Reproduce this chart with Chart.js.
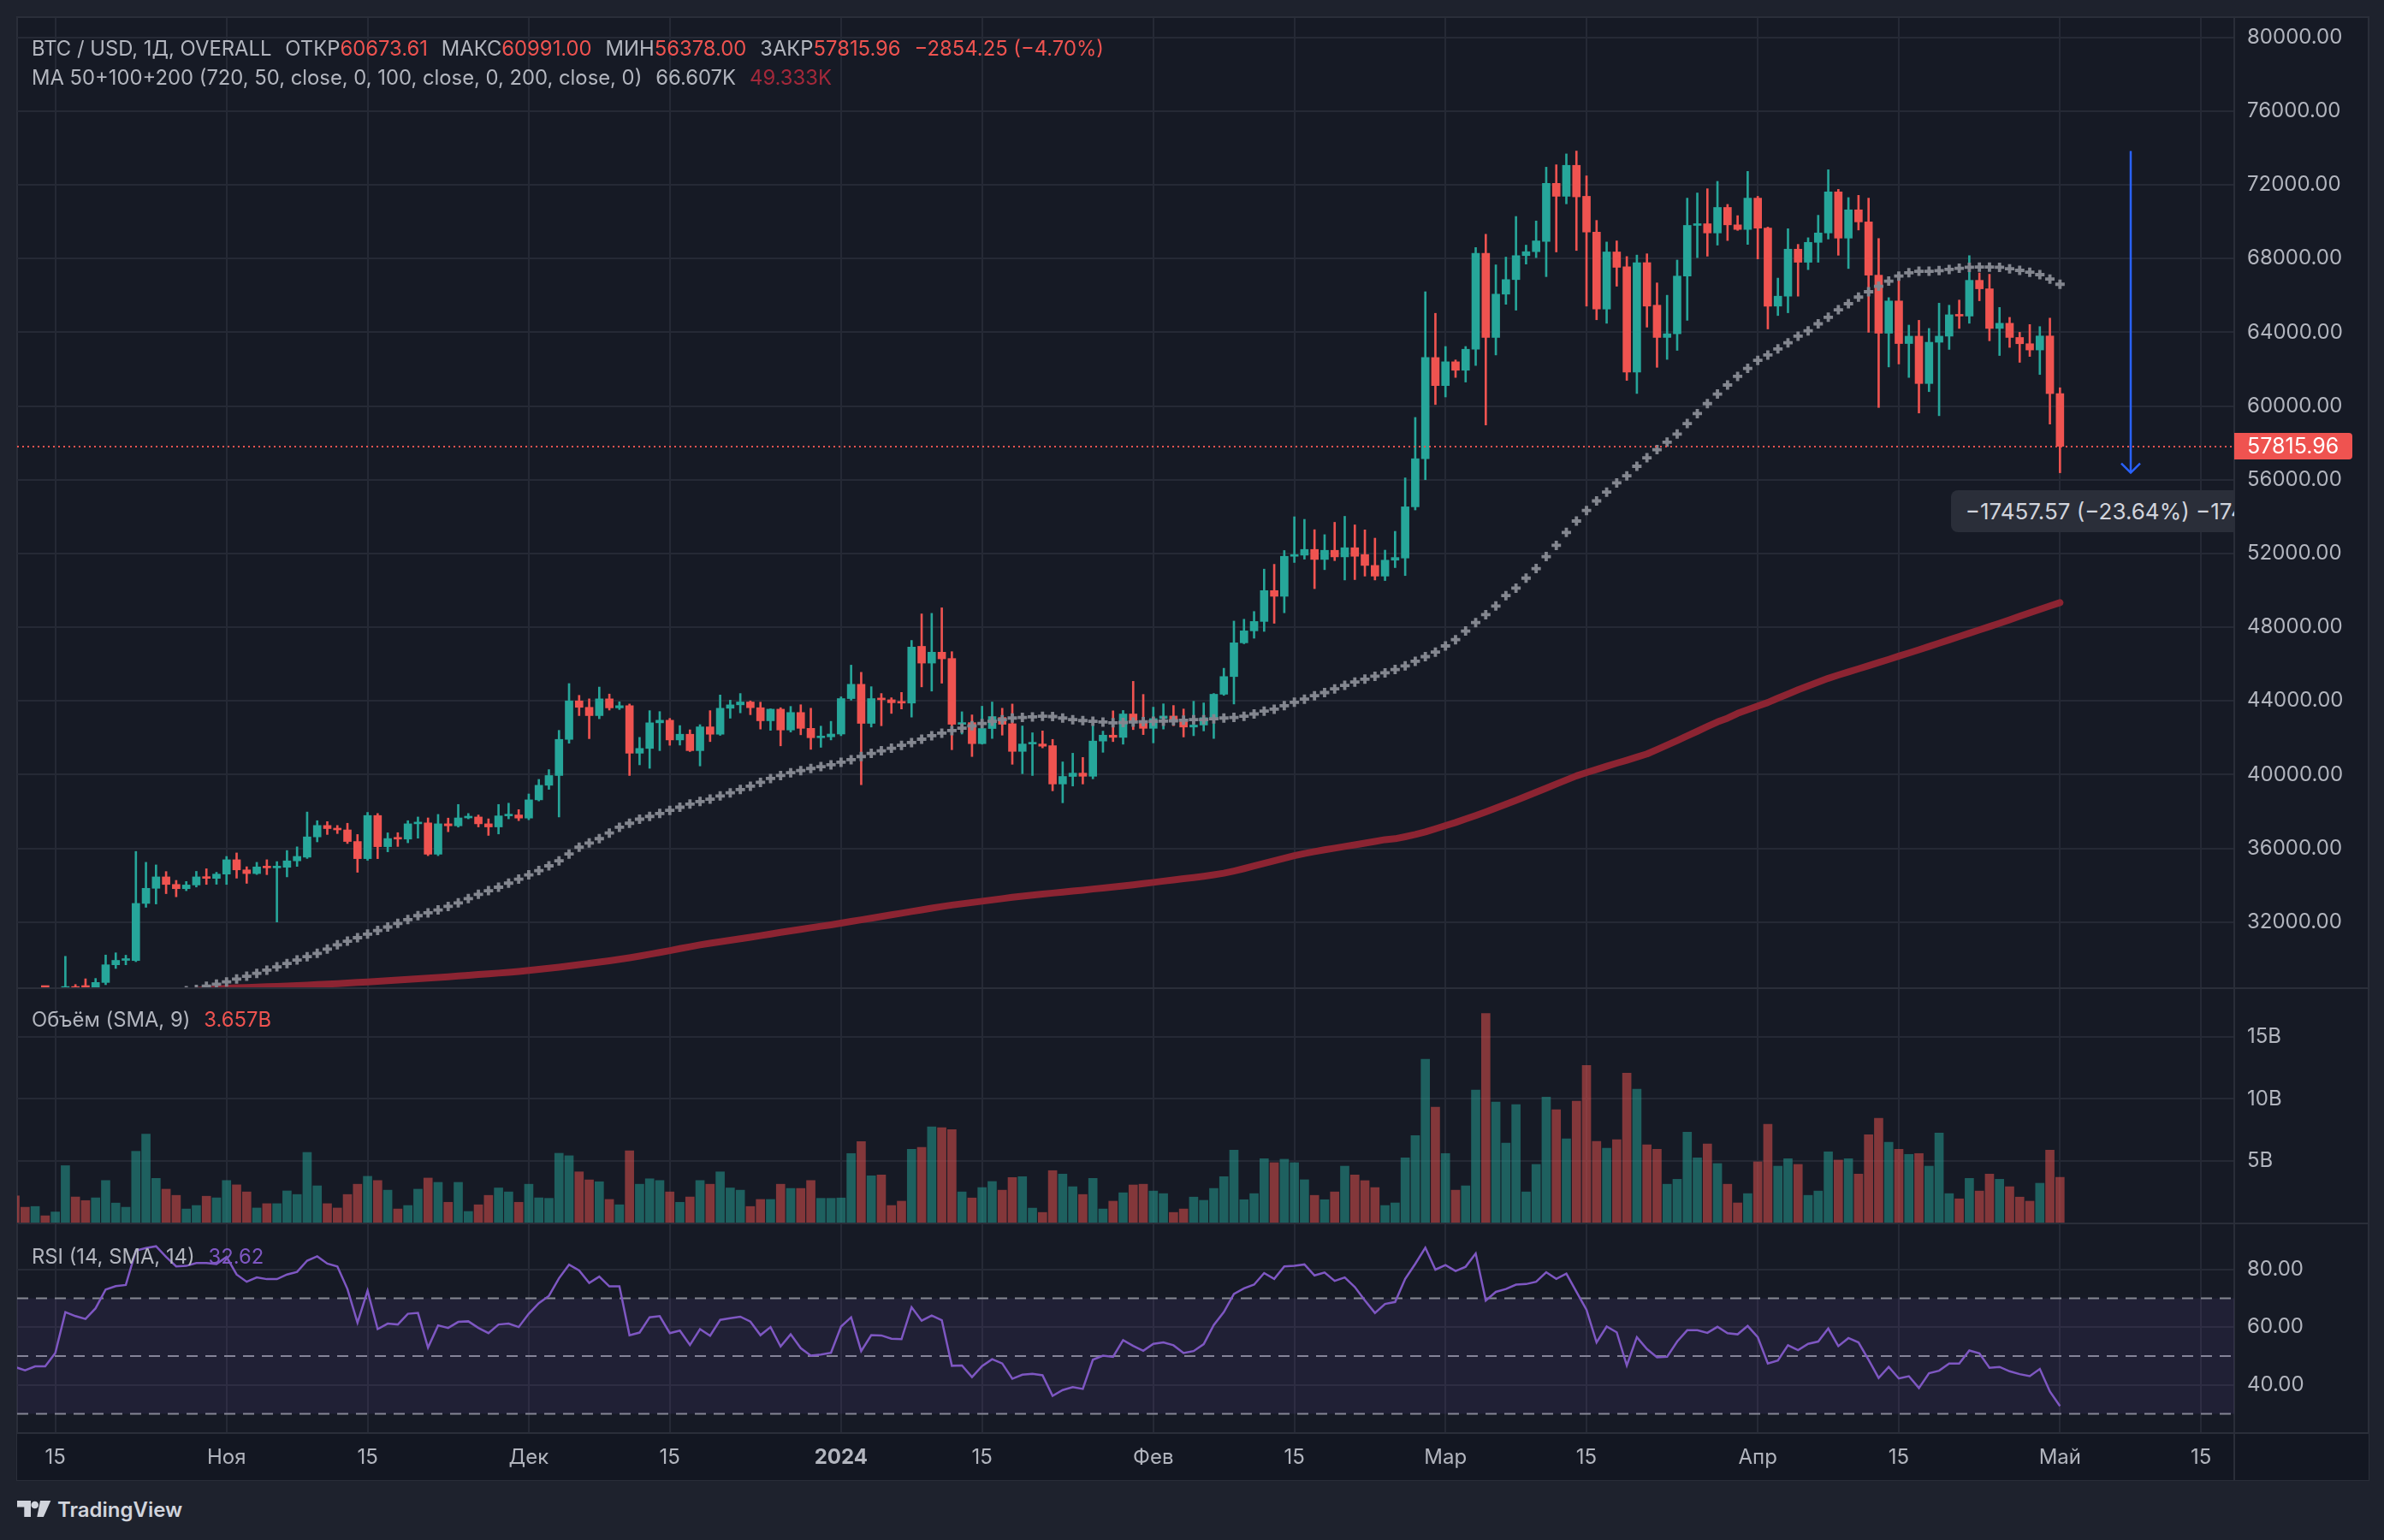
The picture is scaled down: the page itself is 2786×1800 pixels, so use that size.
<!DOCTYPE html>
<html lang="ru">
<head>
<meta charset="utf-8">
<title>BTC / USD, 1Д</title>
<script src="https://cdn.jsdelivr.net/npm/chart.js@4.4.1/dist/chart.umd.min.js"></script>
<style>
  html, body { margin:0; padding:0; width:2786px; height:1800px; overflow:hidden; background:#1e222d;
    font-family: Inter, "Noto Sans", "DejaVu Sans", sans-serif; }
  #frame { position:absolute; left:19px; top:19px; width:2750px; height:1712px; box-sizing:border-box;
    border:2px solid #2a2e39; background:#161a25; }
  canvas { position:absolute; left:20px; }
  .sep { position:absolute; left:20px; width:2748px; height:2px; background:#2a2e39; }
  .ttl { position:absolute; left:37px; font-size:23.8px; line-height:26px; color:#b2b5be; white-space:nowrap; }
  .ttl .g { margin-left:16px; }
  .red { color:#ef5350; }
  .ma2 { color:#a3283a; }
  .pur { color:#7e57c2; }
  #priceTag { position:absolute; width:138px; height:31px; line-height:31px; background:#ef5350; color:#ffffff;
    font-size:25px; padding-left:15px; box-sizing:border-box; border-radius:0 4px 4px 0; }
  #clipBox { position:absolute; left:20px; top:21px; width:2591px; height:1133px; overflow:hidden; pointer-events:none; }
  #measureBox { position:absolute; width:420px; height:49px; line-height:49px; background:#2a2e39; color:#d1d4dc;
    font-size:26px; padding-left:17px; box-sizing:border-box; border-radius:8px; white-space:nowrap; }
  #logo { position:absolute; left:20px; top:1750px; height:30px; color:#d1d4dc; }
  #logo svg { position:absolute; left:0; top:4px; }
  #logo span { position:absolute; left:47px; top:0; font-size:24px; line-height:30px; font-weight:600; white-space:nowrap; }
</style>
</head>
<body>
<div id="frame"></div>
<canvas id="cMain" width="2748" height="1133" style="top:21px;width:2748px;height:1133px"></canvas>
<div class="sep" style="top:1154px"></div>
<canvas id="cVol" width="2748" height="273" style="top:1156px;width:2748px;height:273px"></canvas>
<div class="sep" style="top:1429px"></div>
<canvas id="cRsi" width="2748" height="299" style="top:1431px;width:2748px;height:299px"></canvas>

<div class="ttl" style="top:44px">BTC / USD, 1Д, OVERALL<span class="g">ОТКР<span class="red">60673.61</span></span><span class="g">МАКС<span class="red">60991.00</span></span><span class="g">МИН<span class="red">56378.00</span></span><span class="g">ЗАКР<span class="red">57815.96</span></span><span class="g red">−2854.25 (−4.70%)</span></div>
<div class="ttl" style="top:78px">MA 50+100+200 (720, 50, close, 0, 100, close, 0, 200, close, 0)<span class="g">66.607K</span><span class="g ma2">49.333K</span></div>
<div class="ttl" style="top:1179px">Объём (SMA, 9)<span class="g red">3.657B</span></div>
<div class="ttl" style="top:1456px">RSI (14, SMA, 14)<span class="g pur">32.62</span></div>

<div id="clipBox"><div id="measureBox">−17457.57 (−23.64%) −1745757</div></div>
<div id="priceTag"></div>

<div id="logo">
  <svg width="40" height="20" viewBox="0 0 40 20"><path d="M0 0H16V19H8.3V7.4H0Z" fill="#d1d4dc"/><circle cx="20.7" cy="5" r="4.3" fill="#d1d4dc"/><path d="M27 0H39.3L30.9 19H23.3Z" fill="#d1d4dc"/></svg>
  <span>TradingView</span>
</div>

<script>
// ---------------- DATA (daily candles, 11 Oct 2023 → 1 May 2024) ----------------
const firstDay = '2023-10-11';

const opens = [
  27390, 26870, 26750, 26860, 26850, 27150, 28500, 28400, 28320, 28720,
  29680, 29920, 29910, 33010, 33830, 34450, 34040, 33810, 34010, 34450,
  34370, 34600, 35380, 34830, 34630, 34990, 34940, 34970, 35320, 35520,
  36620, 37240, 37070, 37000, 36370, 35440, 37780, 36090, 36530, 36500,
  37330, 37380, 35680, 37330, 37220, 37650, 37700, 37330, 37160, 37760,
  37810, 37640, 38630, 39420, 39950, 41910, 44000, 43650, 43200, 44110,
  43620, 43740, 41160, 41420, 42810, 42950, 41880, 42190, 41300, 42590,
  42190, 43600, 43785, 43940, 43630, 42920, 43550, 42420, 43370, 42510,
  42000, 42050, 42200, 44125, 44900, 42780, 44125, 44060, 43940, 43880,
  46960, 46050, 46640, 46300, 42730, 42820, 41680, 42500, 43100, 42760,
  41260, 41660, 41660, 41570, 39490, 39900, 40080, 39910, 41820, 42140,
  42020, 43290, 42890, 42510, 43040, 43180, 42990, 42580, 42690, 43090,
  44360, 45320, 47150, 47800, 48310, 49985, 49675, 51845, 51907, 52217,
  51675, 52170, 51814, 52310, 51940, 51350, 50770, 51635, 51750, 54530,
  57140, 62630, 61110, 62400, 61940, 63080, 68280, 63720, 66070, 66860,
  68160, 68375, 68930, 72080, 71380, 73060, 71380, 69440, 65260, 68360,
  67560, 61840, 67780, 65470, 63720, 63920, 67050, 69800, 69890, 69390,
  70775, 69830, 69580, 71280, 69650, 65420, 65960, 68510, 67800, 68880,
  69390, 71620, 69110, 70645, 69990, 67100, 63950, 65700, 63390, 63790,
  61220, 63460, 63790, 64950, 64880, 66820, 66360, 64210, 64490, 63720,
  63380, 63040, 63800, 60673.61
];
const highs = [
  27480, 26940, 27100, 26980, 27290, 30140, 28610, 28920, 28940, 30210,
  30330, 30200, 35830, 35240, 35100, 34740, 34260, 34200, 34750, 34890,
  34700, 35560, 35750, 35000, 35240, 35380, 35280, 35880, 36080, 37970,
  37500, 37450, 37240, 37360, 36750, 37950, 37890, 36840, 36850, 37500,
  37700, 37650, 37840, 37640, 38380, 37890, 37810, 37600, 38380, 38450,
  38100, 38950, 39740, 40270, 42400, 44940, 44300, 44110, 44750, 44370,
  43950, 43830, 42020, 43470, 43420, 43050, 42660, 42430, 42710, 43470,
  44320, 44040, 44400, 44000, 43930, 43570, 43630, 43700, 43790, 43600,
  42630, 42890, 44220, 45940, 45550, 44770, 44400, 44170, 44460, 47280,
  48720, 48750, 49050, 46670, 43410, 43240, 43710, 43940, 43600, 43830,
  42640, 42270, 42370, 41910, 40690, 41160, 40930, 42730, 42360, 43460,
  43480, 45060, 44350, 43660, 43840, 43750, 43560, 43980, 43890, 44400,
  45770, 48330, 48430, 48850, 51150, 51410, 52160, 53990, 53850, 53290,
  53020, 53690, 54015, 53550, 53280, 52830, 52180, 53200, 56100, 59380,
  66200, 65030, 63230, 62500, 63230, 68600, 69320, 67660, 68080, 70285,
  68730, 70040, 72960, 73090, 73680, 73835.53, 72490, 70070, 68900, 68960,
  68110, 68190, 68260, 66680, 66010, 67920, 71280, 71560, 71790, 72190,
  70940, 70330, 72730, 71380, 69710, 66940, 69620, 68770, 69130, 70350,
  72820, 71755, 71310, 71430, 71280, 69090, 65880, 66990, 64390, 64650,
  64210, 65580, 65470, 65750, 68160, 67220, 67150, 65350, 64810, 64000,
  64420, 64310, 64770, 60991
];
const lows = [
  26550, 26560, 26690, 26800, 26800, 27130, 28090, 28130, 28180, 28600,
  29480, 29680, 29850, 32800, 32980, 33540, 33370, 33700, 33900, 34040,
  34050, 34040, 34380, 34100, 34580, 34570, 32000, 34450, 35020, 35450,
  36350, 36750, 36800, 36260, 34700, 35350, 35440, 35810, 36100, 36300,
  36550, 35600, 35600, 36900, 37150, 37600, 37160, 36700, 36780, 37600,
  37500, 37550, 38570, 39200, 37700, 41700, 43200, 41950, 43030, 43500,
  43530, 39950, 40530, 40340, 41300, 41590, 41600, 41250, 40470, 41790,
  42130, 43060, 43350, 43250, 42470, 42400, 41560, 42310, 42160, 41370,
  41480, 41880, 42110, 44040, 39450, 42580, 42650, 43320, 43560, 43120,
  44760, 44530, 44960, 41350, 42200, 40980, 41650, 41960, 42140, 40560,
  40050, 39950, 41450, 39120, 38470, 39380, 39490, 39770, 41210, 41790,
  41650, 42440, 42170, 41720, 42470, 42650, 42040, 42110, 42370, 41960,
  44300, 43830, 47100, 47400, 47770, 48210, 48780, 51510, 51690, 50090,
  51120, 51610, 50560, 50580, 50770, 50560, 50530, 51230, 50800, 54360,
  56000, 60080, 60490, 61550, 61300, 62200, 58970, 62770, 65520, 65200,
  67700, 68050, 67020, 68360, 70970, 68440, 65420, 64680, 64490, 66500,
  61390, 60680, 64280, 62100, 62530, 63020, 64650, 68050, 68130, 68730,
  68980, 69530, 68770, 67980, 64180, 64910, 65060, 65960, 67400, 67800,
  69060, 68180, 67460, 69550, 64000, 59920, 62120, 62280, 61550, 59620,
  60780, 59475, 63070, 64210, 64490, 65710, 63540, 62740, 63180, 62370,
  62690, 61710, 59020, 56378
];
const closes = [
  26870, 26750, 26860, 26850, 27150, 28500, 28400, 28320, 28720, 29680,
  29920, 29990, 33010, 33830, 34450, 34040, 33810, 34010, 34450, 34370,
  34600, 35380, 34830, 34630, 34990, 34940, 34970, 35320, 35560, 36620,
  37240, 37070, 37000, 36370, 35440, 37780, 36090, 36530, 36500, 37330,
  37420, 35680, 37330, 37220, 37650, 37700, 37330, 37160, 37760, 37810,
  37640, 38630, 39420, 39950, 41910, 44000, 43650, 43200, 44110, 43620,
  43740, 41160, 41420, 42810, 42950, 41880, 42190, 41300, 42590, 42190,
  43600, 43785, 43940, 43630, 42920, 43550, 42420, 43370, 42510, 42000,
  42050, 42200, 44125, 44900, 42780, 44125, 44060, 43900, 43880, 46920,
  46050, 46640, 46280, 42730, 42810, 41680, 42500, 43150, 42730, 41260,
  41660, 41690, 41540, 39490, 39900, 40080, 39910, 41820, 42140, 42020,
  43290, 42890, 42510, 43040, 43180, 42990, 42580, 42690, 43090, 44360,
  45320, 47150, 47800, 48310, 49985, 49675, 51845, 51940, 52217, 51675,
  52170, 51814, 52310, 51845, 51350, 50770, 51635, 51780, 54530, 57140,
  62630, 61110, 62400, 61940, 63080, 68280, 63720, 66070, 66860, 68160,
  68375, 68960, 72080, 71380, 73060, 71350, 69440, 65260, 68360, 67525,
  61840, 67780, 65420, 63720, 63920, 67050, 69800, 69890, 69390, 70775,
  69830, 69580, 71280, 69650, 65420, 65960, 68510, 67800, 68880, 69390,
  71620, 69110, 70645, 69990, 67100, 63950, 65700, 63390, 63790, 61220,
  63460, 63790, 64950, 64880, 66820, 66360, 64210, 64490, 63720, 63380,
  63040, 63800, 60673.61, 57815.96
];
// volume, billions
const volumes = [
  2.16, 1.24, 1.3, 0.55, 0.86, 4.6, 2.07, 1.78, 2.0, 3.4,
  1.58, 1.24, 5.76, 7.14, 3.57, 2.7, 2.2, 1.1, 1.38, 2.13,
  2.0, 3.4, 3.05, 2.48, 1.18, 1.53, 1.53, 2.56, 2.27, 5.67,
  2.97, 1.53, 1.18, 2.27, 3.1, 3.74, 3.4, 2.62, 1.1, 1.38,
  2.7, 3.6, 3.25, 1.64, 3.25, 0.9, 1.44, 2.2, 2.8, 2.48,
  1.64, 3.1, 2.0, 1.96, 5.6, 5.4, 4.1, 3.45, 3.3, 1.87,
  1.44, 5.8, 3.1, 3.54, 3.4, 2.48, 1.64, 2.07, 3.4, 3.1,
  4.1, 2.8, 2.62, 1.3, 1.87, 1.87, 3.1, 2.76, 2.76, 3.4,
  1.96, 1.96, 1.99, 5.58, 6.54, 3.78, 3.85, 1.38, 1.73, 5.93,
  6.07, 7.73, 7.66, 7.52, 2.48, 1.99, 2.83, 3.32, 2.62, 3.64,
  3.71, 1.17, 0.82, 4.2, 3.92, 2.9, 2.27, 3.57, 1.1, 1.73,
  2.41, 3.04, 3.1, 2.55, 2.34, 0.82, 1.1, 2.06, 1.8, 2.76,
  3.71, 5.86, 1.85, 2.34, 5.16, 4.84, 5.12, 4.84, 3.46, 2.2,
  1.85, 2.48, 4.56, 3.85, 3.39, 2.83, 1.38, 1.59, 5.23, 7.03,
  13.2, 9.32, 5.58, 2.62, 2.97, 10.7, 16.9, 9.74, 6.42, 9.53,
  2.48, 4.7, 10.14, 9.11, 6.77, 9.81, 12.7, 6.56, 6.0, 6.7,
  12.08, 10.77, 6.28, 5.93, 3.1, 3.5, 7.31, 5.23, 6.35, 4.77,
  3.1, 1.59, 2.34, 4.91, 7.94, 4.56, 5.16, 4.7, 2.2, 2.55,
  5.72, 5.05, 5.16, 3.92, 7.1, 8.43, 6.49, 5.93, 5.51, 5.58,
  4.56, 7.24, 2.34, 1.92, 3.57, 2.55, 3.92, 3.5, 2.9, 2.06,
  1.73, 3.18, 5.86, 3.657
];
const rsi = [
  46.2, 45.0, 46.4, 46.4, 51.0, 65.2, 63.8, 62.8, 66.5, 73.0,
  74.2, 74.6, 86.5, 87.4, 88.0, 84.3, 81.0, 81.2, 82.2, 82.2,
  81.8, 84.3, 78.2, 75.7, 77.2, 76.6, 76.6, 78.2, 79.1, 83.0,
  84.5, 82.0, 81.0, 73.2, 61.5, 72.6, 59.3, 61.2, 60.9, 64.6,
  64.9, 52.9, 60.6, 59.7, 61.8, 62.0, 59.7, 57.9, 60.9, 61.2,
  60.0, 64.6, 68.3, 70.8, 76.9, 81.6, 79.6, 75.3, 77.5, 74.1,
  74.1, 57.2, 58.1, 63.4, 63.8, 57.9, 58.8, 53.8, 59.3, 57.0,
  62.5, 63.1, 63.6, 61.9, 57.2, 60.0, 53.3, 57.5, 52.7, 50.1,
  50.5, 51.1, 60.2, 63.4, 51.7, 57.2, 57.1, 56.0, 55.8, 66.9,
  62.2, 64.0, 62.4, 46.6, 46.7, 42.7, 46.5, 48.9, 47.4, 42.1,
  43.5, 43.8, 43.3, 36.2, 38.2, 39.2, 38.6, 48.7, 50.1, 49.7,
  55.5, 53.5, 51.8, 54.2, 54.7, 53.7, 51.0, 51.7, 54.1, 60.7,
  65.2, 71.5, 73.4, 74.7, 78.7, 76.7, 81.0, 81.2, 81.7, 77.9,
  78.9, 76.0, 77.2, 73.9, 69.2, 64.9, 68.0, 68.7, 76.7, 81.9,
  87.5, 79.9, 81.5, 79.4, 80.9, 85.5, 69.2, 72.2, 73.2, 74.7,
  74.9, 75.7, 79.0, 76.7, 78.5, 72.2, 66.0, 54.7, 60.2, 58.2,
  46.7, 56.5, 52.4, 49.5, 49.7, 55.0, 58.9, 58.9, 58.0, 60.1,
  57.9, 57.5, 60.4, 56.5, 47.4, 48.4, 53.7, 52.0, 54.2, 55.0,
  59.5, 53.4, 56.2, 54.7, 48.7, 42.4, 46.2, 42.2, 43.0, 38.9,
  44.0, 44.9, 47.4, 47.4, 51.9, 50.9, 45.9, 46.2, 44.7, 43.7,
  43.0, 45.5, 37.7, 32.62
];
// MA 50 (grey crosses)
const ma50 = [
  null, null, null, null, null, null, null, null, null, null,
  null, null, null, null, 28080, 28140, 28200, 28270, 28340, 28517,
  28630, 28750, 28905, 29060, 29215, 29390, 29570, 29750, 29940, 30120,
  30300, 30530, 30765, 30960, 31150, 31345, 31540, 31730, 31925, 32135,
  32345, 32500, 32655, 32850, 33040, 33270, 33505, 33700, 33890, 34110,
  34325, 34560, 34790, 35050, 35320, 35690, 36060, 36290, 36525, 36830,
  37145, 37360, 37580, 37730, 37890, 38060, 38230, 38400, 38540, 38670,
  38840, 39010, 39190, 39370, 39580, 39790, 39950, 40100, 40220, 40330,
  40430, 40530, 40670, 40810, 40980, 41150, 41290, 41430, 41590, 41740,
  41920, 42110, 42250, 42390, 42520, 42650, 42770, 42890, 42980, 43070,
  43100, 43130, 43165, 43150, 43070, 42980, 42930, 42890, 42855, 42810,
  42825, 42855, 42870, 42890, 42900, 42920, 42950, 42980, 42980, 43025,
  43070, 43100, 43165, 43290, 43445, 43550, 43740, 43925, 44095, 44280,
  44450, 44650, 44840, 45025, 45180, 45335, 45520, 45700, 45900, 46150,
  46400, 46650, 46980, 47320, 47790, 48250, 48680, 49150, 49710, 50120,
  50660, 51180, 51830, 52440, 53140, 53760, 54330, 54850, 55330, 55830,
  56210, 56730, 57190, 57630, 58040, 58480, 59050, 59590, 60130, 60650,
  61140, 61610, 62040, 62480, 62770, 63100, 63430, 63790, 64080, 64460,
  64815, 65220, 65550, 65910, 66200, 66500, 66775, 67050, 67230, 67310,
  67310, 67345, 67410, 67475, 67525, 67540, 67540, 67525, 67445, 67360,
  67260, 67130, 66890, 66607
];
// MA 200 (dark red line)
const ma200 = [
  null, null, null, null, null, null, null, null, null, null,
  null, null, null, null, null, null, null, null, 28300, 28330,
  28370, 28410, 28430, 28450, 28470, 28490, 28510, 28530, 28555, 28580,
  28605, 28630, 28660, 28690, 28720, 28750, 28785, 28820, 28855, 28890,
  28925, 28960, 28995, 29030, 29070, 29110, 29150, 29190, 29230, 29270,
  29320, 29370, 29430, 29490, 29550, 29620, 29690, 29760, 29830, 29900,
  29980, 30060, 30150, 30250, 30350, 30450, 30560, 30660, 30760, 30850,
  30930, 31010, 31090, 31170, 31260, 31350, 31440, 31520, 31600, 31690,
  31770, 31850, 31940, 32030, 32120, 32210, 32300, 32390, 32480, 32570,
  32660, 32750, 32840, 32920, 32990, 33060, 33130, 33200, 33270, 33340,
  33400, 33460, 33520, 33570, 33620, 33680, 33730, 33790, 33840, 33900,
  33960, 34020, 34090, 34150, 34220, 34280, 34350, 34410, 34480, 34560,
  34650, 34770, 34900, 35040, 35180, 35320, 35460, 35600, 35720, 35820,
  35920, 36010, 36100, 36190, 36280, 36370, 36470, 36520, 36630, 36750,
  36890, 37060, 37230, 37400, 37590, 37780, 37980, 38180, 38390, 38600,
  38820, 39040, 39260, 39490, 39710, 39930, 40110, 40280, 40450, 40620,
  40780, 40950, 41120, 41360, 41600, 41850, 42100, 42350, 42610, 42860,
  43060, 43320, 43520, 43720, 43910, 44150, 44370, 44600, 44810, 45020,
  45225, 45400, 45570, 45740, 45910, 46080, 46250, 46430, 46600, 46775,
  46950, 47130, 47310, 47490, 47670, 47850, 48030, 48210, 48400, 48590,
  48780, 48970, 49150, 49333
];

// axes / ticks (positions are candle indices from 11 Oct 2023)
const timeTickPos    = [4, 21, 35, 51, 65, 82, 96, 113, 127, 142, 156, 173, 187, 203, 217];
const timeTickLabels = ['15', 'Ноя', '15', 'Дек', '15', '2024', '15', 'Фев', '15', 'Мар', '15', 'Апр', '15', 'Май', '15'];
const priceTicks  = [32000, 36000, 40000, 44000, 48000, 52000, 56000, 60000, 64000, 68000, 72000, 76000, 80000];
const volumeTicks = [5, 10, 15];
const rsiTicks    = [40, 60, 80];
const rsiLevels   = [70, 50, 30];
// measuring tool (arrow from the March high to the latest low)
const measureX = 210, measureFrom = 73835.53, measureTo = 56378;
const measureText = '−17457.57 (−23.64%) −1745757';

// ---------------- STYLE ----------------
const UP = '#26a69a', DOWN = '#ef5350';
const VOL_UP = 'rgba(38,166,154,0.5)', VOL_DOWN = 'rgba(239,83,80,0.5)';
const GRID = '#252935';
const TXT = '#b2b5be';
const X_MIN = 0.21, X_MAX = 220.3;
const AXIS_W = 157;

Chart.defaults.font.family = 'Inter, "Noto Sans", "DejaVu Sans", sans-serif';
Chart.defaults.font.size = 24;
Chart.defaults.color = TXT;
Chart.defaults.animation = false;

const idx = closes.map((_, i) => i);
const isUp = closes.map((c, i) => c >= opens[i]);

function xAxis(showTicks) {
  return {
    type: 'linear', min: X_MIN, max: X_MAX, offset: false,
    afterBuildTicks: s => { s.ticks = timeTickPos.map(v => ({ value: v })); },
    ticks: {
      display: showTicks, autoSkip: false, maxRotation: 0, padding: 14, color: TXT,
      callback: (v, i) => timeTickLabels[i],
      font: ctx => ({ size: 24, weight: timeTickLabels[ctx.index] === '2024' ? 'bold' : 'normal' })
    },
    grid: { color: GRID, lineWidth: 2, drawTicks: false, offset: false },
    border: { display: false },
    afterFit: s => { s.height = showTicks ? 55 : 0; s.paddingLeft = 0; s.paddingRight = 0; }
  };
}
function yAxis(min, max, ticksArr, fmt) {
  return {
    type: 'linear', position: 'right', min, max,
    afterBuildTicks: s => { s.ticks = ticksArr.map(v => ({ value: v })); },
    ticks: { padding: 15, color: TXT, font: { size: 24 }, callback: fmt },
    grid: { color: GRID, lineWidth: 2, drawTicks: false, offset: false },
    border: { display: true, color: '#2a2e39', width: 2 },
    afterFit: s => { s.width = AXIS_W; s.paddingTop = 0; s.paddingBottom = 0; }
  };
}
const baseOpts = {
  responsive: false, maintainAspectRatio: false, devicePixelRatio: 1, animation: false, events: [],
  layout: { padding: 0, autoPadding: false },
  plugins: { legend: { display: false }, tooltip: { enabled: false } }
};

// ---------------- MAIN PRICE PANE ----------------
const priceLinePlugin = {
  id: 'priceLine',
  afterDatasetsDraw(chart) {
    const { ctx, chartArea: a, scales: { x, y } } = chart;
    const last = closes[closes.length - 1];
    const py = Math.round(y.getPixelForValue(last));
    ctx.save();
    ctx.beginPath(); ctx.rect(a.left, a.top, a.right - a.left, a.bottom - a.top); ctx.clip();
    ctx.strokeStyle = isUp[isUp.length - 1] ? UP : DOWN;
    ctx.lineWidth = 2; ctx.setLineDash([2, 4]);
    ctx.beginPath(); ctx.moveTo(a.left, py); ctx.lineTo(a.right, py); ctx.stroke();
    ctx.setLineDash([]);
    // measuring arrow
    const px = Math.round(x.getPixelForValue(measureX));
    const yTop = y.getPixelForValue(measureFrom), yBot = y.getPixelForValue(measureTo);
    ctx.strokeStyle = '#2962ff'; ctx.lineWidth = 2.5;
    ctx.beginPath(); ctx.moveTo(px, yTop); ctx.lineTo(px, yBot); ctx.stroke();
    ctx.beginPath(); ctx.moveTo(px - 11, yBot - 11); ctx.lineTo(px, yBot); ctx.lineTo(px + 11, yBot - 11); ctx.stroke();
    ctx.restore();
  }
};

const mainChart = new Chart(document.getElementById('cMain'), {
  type: 'bar',
  data: {
    datasets: [
      { type: 'line', label: 'MA50', data: idx.map(i => ({ x: i, y: ma50[i] })), showLine: false,
        pointStyle: 'cross', pointRadius: 5.5, pointBorderWidth: 3.8, pointBorderColor: '#83868f',
        pointBackgroundColor: '#83868f', clip: 0 },
      { type: 'bar', label: 'body', data: idx.map(i => ({ x: i, y: [opens[i], closes[i]] })),
        backgroundColor: isUp.map(u => u ? UP : DOWN), barThickness: 9, minBarLength: 2,
        grouped: false, borderWidth: 0, clip: 0 },
      { type: 'bar', label: 'wick', data: idx.map(i => ({ x: i, y: [lows[i], highs[i]] })),
        backgroundColor: isUp.map(u => u ? UP : DOWN), barThickness: 2, minBarLength: 1,
        grouped: false, borderWidth: 0, clip: 0 },
      { type: 'line', label: 'MA200', data: idx.map(i => ({ x: i, y: ma200[i] })),
        borderColor: '#8c2432', borderWidth: 8, pointRadius: 0, tension: 0,
        borderCapStyle: 'round', borderJoinStyle: 'round', clip: 0 }
    ]
  },
  options: Object.assign({}, baseOpts, {
    scales: {
      x: xAxis(false),
      y: yAxis(28458, 81056, priceTicks, v => v.toFixed(2))
    }
  }),
  plugins: [priceLinePlugin]
});

// price tag and measurement label (HTML text placed with the chart's scales)
(function placeLabels() {
  const a = mainChart.chartArea, y = mainChart.scales.y, x = mainChart.scales.x;
  const last = closes[closes.length - 1];
  const tag = document.getElementById('priceTag');
  tag.textContent = last.toFixed(2);
  tag.style.background = isUp[isUp.length - 1] ? UP : DOWN;
  tag.style.left = (20 + a.right) + 'px';
  tag.style.top = (21 + y.getPixelForValue(last) - 15.5) + 'px';
  const box = document.getElementById('measureBox');
  box.textContent = measureText;
  box.style.left = (x.getPixelForValue(measureX) - 210) + 'px';
  box.style.top = (y.getPixelForValue(measureTo) + 20) + 'px';
})();

// ---------------- VOLUME PANE ----------------
new Chart(document.getElementById('cVol'), {
  type: 'bar',
  data: {
    datasets: [
      { label: 'Volume', data: idx.map(i => ({ x: i, y: volumes[i] })),
        backgroundColor: isUp.map(u => u ? VOL_UP : VOL_DOWN), barThickness: 10,
        grouped: false, borderWidth: 0, clip: 0 }
    ]
  },
  options: Object.assign({}, baseOpts, {
    scales: {
      x: xAxis(false),
      y: yAxis(0, 18.87, volumeTicks, v => v + 'B')
    }
  })
});

// ---------------- RSI PANE + TIME AXIS ----------------
const timeAxisBg = {
  id: 'timeAxisBg',
  beforeDraw(chart) {
    const { ctx, chartArea: a, width, height } = chart;
    ctx.save();
    ctx.fillStyle = '#131722';
    ctx.fillRect(0, a.bottom, width, height - a.bottom);
    ctx.restore();
  },
  afterDraw(chart) {
    const { ctx, chartArea: a, width, height } = chart;
    ctx.save();
    ctx.fillStyle = '#2a2e39';
    ctx.fillRect(0, a.bottom - 1, width, 2);
    ctx.fillRect(a.right - 1, a.bottom, 2, height - a.bottom);
    ctx.restore();
  }
};
const levelSet = (lvl, extra) => Object.assign({
  type: 'line', data: [{ x: X_MIN, y: lvl }, { x: X_MAX, y: lvl }],
  borderColor: '#868993', borderWidth: 2, borderDash: [13, 9], pointRadius: 0, fill: false, clip: 0
}, extra || {});

new Chart(document.getElementById('cRsi'), {
  type: 'line',
  data: {
    datasets: [
      { label: 'RSI', data: idx.map(i => ({ x: i, y: rsi[i] })), borderColor: '#7e57c2',
        borderWidth: 2.5, pointRadius: 0, tension: 0, fill: false, clip: 0 },
      levelSet(rsiLevels[0], { fill: { value: rsiLevels[2] }, backgroundColor: 'rgba(126,87,194,0.1)' }),
      levelSet(rsiLevels[1]),
      levelSet(rsiLevels[2])
    ]
  },
  options: Object.assign({}, baseOpts, {
    scales: {
      x: xAxis(true),
      y: yAxis(23.3, 95.6, rsiTicks, v => v.toFixed(2))
    }
  }),
  plugins: [timeAxisBg]
});
</script>
</body>
</html>
